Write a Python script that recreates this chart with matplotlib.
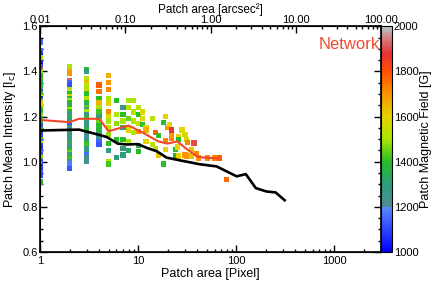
import numpy as np
import matplotlib
matplotlib.use("Agg")
import matplotlib.pyplot as plt
import matplotlib.transforms as mtrans
from matplotlib.colors import LinearSegmentedColormap, Normalize
from matplotlib.ticker import NullFormatter, MultipleLocator

plt.rcParams["font.family"] = ["Liberation Sans", "DejaVu Sans"]
plt.rcParams["font.size"] = 9

# (intensity, field) per patch-area column
col1 = [(1.53, 1150), (1.49, 1150), (1.48, 1100), (1.47, 1050), (1.46, 1500), (1.44, 1050),
        (1.43, 1030), (1.42, 1120), (1.41, 1900), (1.40, 1450), (1.39, 1500), (1.38, 1400),
        (1.37, 1380), (1.36, 1420), (1.35, 1300), (1.34, 1400), (1.33, 1350), (1.32, 1420),
        (1.31, 1100), (1.30, 1400), (1.29, 1500), (1.28, 1050), (1.27, 1400), (1.26, 1600),
        (1.25, 1620), (1.24, 1550), (1.23, 1400), (1.22, 1380), (1.21, 1420), (1.20, 1500),
        (1.19, 1300), (1.18, 1380), (1.17, 1400), (1.16, 1120), (1.15, 1100), (1.14, 1380),
        (1.13, 1050), (1.12, 1080), (1.11, 1100), (1.10, 1400), (1.09, 1150), (1.08, 1500),
        (1.07, 1100), (1.06, 1050), (1.05, 1100), (1.04, 1150), (1.03, 1120), (1.02, 1500),
        (1.01, 1450), (1.00, 1100), (0.99, 1150), (0.98, 1050), (0.97, 1100), (0.96, 1080),
        (0.95, 1120), (0.94, 1100), (0.91, 1380)]
col2 = [(1.42, 1520), (1.40, 1680), (1.39, 1700), (1.36, 1920), (1.35, 1150), (1.34, 1120),
        (1.32, 1500), (1.31, 1550), (1.30, 1400), (1.29, 1600), (1.28, 1380), (1.27, 1500),
        (1.26, 1400), (1.25, 1250), (1.24, 1400), (1.23, 1500), (1.22, 1380), (1.21, 1280),
        (1.20, 1250), (1.19, 1400), (1.18, 1260), (1.17, 1450), (1.16, 1120), (1.15, 1250),
        (1.14, 1280), (1.13, 1250), (1.12, 1300), (1.11, 1260), (1.10, 1240), (1.09, 1250),
        (1.08, 1400), (1.07, 1250), (1.06, 1300), (1.05, 1400), (1.04, 1450), (1.03, 1260),
        (1.02, 1400), (1.01, 1420), (1.00, 1250), (0.99, 1180), (0.97, 1130)]
col3 = [(1.41, 1400), (1.40, 1300), (1.37, 1520), (1.35, 1650), (1.34, 1550), (1.33, 1500),
        (1.31, 1580), (1.30, 1400), (1.28, 1500), (1.27, 1550), (1.26, 1400), (1.25, 1300),
        (1.24, 1450), (1.23, 1260), (1.22, 1500), (1.21, 1250), (1.20, 1280), (1.19, 1400),
        (1.18, 1260), (1.17, 1250), (1.16, 1300), (1.15, 1250), (1.14, 1400), (1.13, 1250),
        (1.12, 1260), (1.11, 1220), (1.10, 1250), (1.09, 1280), (1.08, 1400), (1.07, 1420),
        (1.06, 1300), (1.05, 1250), (1.04, 1260), (1.03, 1150), (1.02, 1250), (1.01, 1230),
        (1.00, 1240)]
# (area, intensity, field) for the larger patches
rest = [(4, 1.34, 1780), (4, 1.31, 1750), (4, 1.28, 1400), (4, 1.26, 1650), (4, 1.24, 1500),
        (4, 1.22, 1420), (4, 1.20, 1300), (4, 1.18, 1450), (4, 1.16, 1400), (4, 1.14, 1380),
        (4, 1.12, 1300), (4, 1.10, 1250), (4, 1.09, 1150), (4, 1.075, 1120),
        (5, 1.38, 1660), (5, 1.35, 1700), (5, 1.32, 1720), (5, 1.28, 1500), (5, 1.26, 1580),
        (5, 1.22, 1720), (5, 1.20, 1580), (5, 1.18, 1500), (5, 1.15, 1520), (5, 1.12, 1480),
        (5, 1.08, 1400), (5, 1.05, 1300), (5, 1.00, 1500), (5, 0.99, 1420),
        (6, 1.27, 1400), (6, 1.21, 1500), (6, 1.17, 1480), (6, 1.10, 1400), (6, 1.02, 1260),
        (7, 1.24, 1260), (7, 1.21, 1400), (7, 1.18, 1500), (7, 1.15, 1300), (7, 1.10, 1400),
        (7, 1.06, 1260), (7, 1.03, 1280),
        (8, 1.27, 1500), (8, 1.24, 1520), (8, 1.19, 1450), (8, 1.14, 1600), (8, 1.09, 1500),
        (8, 1.05, 1320),
        (9, 1.27, 1500), (9, 1.22, 1520), (9, 1.18, 1520), (9, 1.13, 1500),
        (10, 1.24, 1520), (10, 1.21, 1400), (10, 1.17, 1550), (10, 1.135, 1700),
        (10, 1.07, 1350), (10, 1.045, 1400),
        (11, 1.22, 1580), (11, 1.19, 1580), (11, 1.165, 1400),
        (12, 1.15, 1600), (12, 1.14, 1650), (12, 1.09, 1600),
        (14, 1.19, 1520), (14, 1.075, 1520), (15, 1.13, 1780), (15, 1.06, 1520),
        (16, 1.115, 1400), (16, 1.03, 1620), (18, 1.175, 1400), (18, 0.99, 1400),
        (19, 1.20, 1600), (19, 1.095, 1720), (19, 1.055, 1600), (20, 1.15, 1700),
        (21, 1.165, 1600), (22, 1.14, 1870), (22, 1.105, 1720), (22, 1.115, 1700),
        (24, 1.055, 1400), (24, 1.025, 1380), (25, 1.065, 1600),
        (26, 1.11, 1600), (26, 1.10, 1400), (26, 1.025, 1600), (28, 1.14, 1600),
        (30, 1.12, 1580), (30, 1.03, 1700), (31, 1.10, 1580), (31, 1.025, 1700),
        (32, 1.085, 1720), (35, 1.055, 1620), (35, 1.025, 1620), (37, 1.083, 1900),
        (39, 1.035, 1720), (41, 1.016, 1700), (51, 1.016, 1720), (60, 1.016, 1720),
        (68, 1.016, 1780), (80, 0.92, 1760)]

red_area = [1, 2, 2.5, 4, 5, 8, 11, 16, 20, 25, 30, 40, 50, 65]
red_int = [1.185, 1.175, 1.19, 1.19, 1.135, 1.16, 1.13, 1.09, 1.08, 1.09, 1.062, 1.022, 1.017, 1.015]
black_area = [1, 2.5, 3.9, 4.8, 6.2, 7.7, 9.9, 12.3, 15.5, 19.5, 26.6, 42, 63, 101, 125, 158, 203, 251, 311]
black_int = [1.138, 1.142, 1.12, 1.109, 1.08, 1.076, 1.078, 1.061, 1.046, 1.018, 1.006, 0.989,
             0.979, 0.935, 0.945, 0.883, 0.868, 0.864, 0.829]

area = [1] * len(col1) + [2] * len(col2) + [3] * len(col3) + [r[0] for r in rest]
inten = [c[0] for c in col1 + col2 + col3] + [r[1] for r in rest]
field = [c[1] for c in col1 + col2 + col3] + [r[2] for r in rest]

cmap = LinearSegmentedColormap.from_list("bfield", [
    (0.0, "#0000ff"), (0.199, "#5a8cff"), (0.2, "#508c96"), (0.3, "#2aa07a"),
    (0.4, "#28be28"), (0.5, "#aae600"), (0.6, "#e6d200"), (0.7, "#fa9600"),
    (0.8, "#ff5000"), (0.88, "#e63232"), (0.95, "#d28282"), (1.0, "#b4c8c8")])
norm = Normalize(1000, 2000)

fig = plt.figure(figsize=(4.37, 2.84), dpi=100)
ax = fig.add_axes([0.0915, 0.1127, 0.781, 0.795])
sc = ax.scatter(area, inten, c=field, cmap=cmap, norm=norm, marker="s", s=14,
                linewidths=0, zorder=2)
ax.plot(red_area, red_int, color="#f04628", lw=1.5, zorder=3)
ax.plot(black_area, black_int, color="black", lw=1.9, zorder=3)

ax.set_xscale("log")
ax.set_xlim(1, 3000)
ax.set_ylim(0.6, 1.6)
ax.set_xticks([1, 10, 100, 1000])
ax.set_xticklabels(["1", "10", "100", "1000"])
ax.yaxis.set_major_locator(MultipleLocator(0.2))
ax.yaxis.set_minor_locator(MultipleLocator(0.05))
ax.set_yticklabels([f"{v:.1f}" for v in ax.get_yticks()])
ax.tick_params(which="both", direction="in", top=False, right=True, width=1, labelsize=8)
ax.tick_params(which="major", length=5)
ax.tick_params(which="minor", length=2.5)
ax.tick_params(axis="y", pad=1.5)
ax.tick_params(axis="x", pad=3)
for s in ax.spines.values():
    s.set_linewidth(1.2)
# nudge the top y label ("1.6") down a touch so it clears the "0.01" above it
ylabs = ax.get_yticklabels()
ylabs[-1].set_transform(ylabs[-1].get_transform() +
                        mtrans.ScaledTranslation(0, -2.5 / 72, fig.dpi_scale_trans))
ax.set_xlabel("Patch area [Pixel]", labelpad=1)
ax.set_ylabel("Patch Mean Intensity [I$_\\mathrm{c}$]", labelpad=3)
ax.text(0.995, 0.92, "Network", transform=ax.transAxes, ha="right", va="center",
        color="#f04a30", fontsize=12)

top = ax.twiny()
top.set_xscale("log")
top.set_xlim(0.01, 100)
top.set_xticks([0.01, 0.1, 1, 10, 100])
top.set_xticklabels(["0.01", "0.10", "1.00", "10.00", "100.00"])
top.tick_params(which="both", direction="in", width=1, pad=1, labelsize=8)
top.tick_params(which="major", length=5)
top.tick_params(which="minor", length=2.5)
top.xaxis.set_minor_formatter(NullFormatter())
top.set_xlabel("Patch area [arcsec\u00b2]", labelpad=1.5, fontsize=8.5)

cax = fig.add_axes([0.8725, 0.1127, 0.025, 0.795])
cb = fig.colorbar(sc, cax=cax)
cb.set_ticks([1000, 1200, 1400, 1600, 1800, 2000])
cb.ax.tick_params(length=0, pad=1, labelsize=8)
cb.outline.set_linewidth(0.8)
cb.set_label("Patch Magnetic Field [G]", labelpad=1)

fig.savefig("out.png", dpi=100)
